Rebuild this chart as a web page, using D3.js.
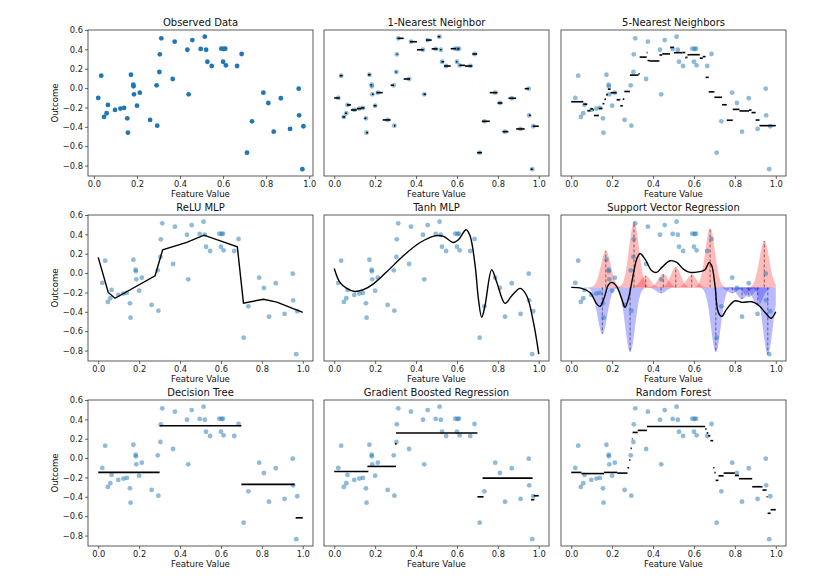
<!DOCTYPE html>
<html><head><meta charset="utf-8">
<script src="https://cdn.jsdelivr.net/npm/d3@7"></script>
<style>body{margin:0;background:#fff} text{font-family:"DejaVu Sans",sans-serif}</style>
</head><body><svg id="c" width="832" height="586"></svg>
<script>
const obsX = [0.020,0.034,0.047,0.059,0.065,0.098,0.123,0.140,0.155,0.158,0.172,0.183,0.184,0.186,0.200,0.213,0.261,0.291,0.294,0.304,0.306,0.313,0.366,0.375,0.434,0.440,0.457,0.496,0.515,0.521,0.527,0.547,0.592,0.600,0.603,0.610,0.613,0.665,0.686,0.711,0.734,0.787,0.810,0.835,0.868,0.911,0.951,0.953,0.968,0.973];
const obsY = [-0.102,0.128,-0.298,-0.260,-0.174,-0.226,-0.212,-0.205,-0.312,-0.460,0.138,0.035,0.018,-0.064,-0.182,-0.047,-0.329,0.029,-0.388,0.166,0.349,0.514,0.094,0.479,0.396,-0.064,0.496,0.405,0.531,0.396,0.272,0.228,0.407,0.272,0.404,0.407,0.235,0.228,0.352,-0.667,-0.343,-0.047,-0.154,-0.450,-0.105,-0.422,-0.006,-0.281,-0.838,-0.394];
const titles = ["Observed Data","1-Nearest Neighbor","5-Nearest Neighbors","ReLU MLP","Tanh MLP","Support Vector Regression","Decision Tree","Gradient Boosted Regression","Random Forest"];
const xTicks = [0.0,0.2,0.4,0.6,0.8,1.0];
const yTicks = [0.6,0.4,0.2,0.0,-0.2,-0.4,-0.6,-0.8];
// 1-NN cell edges (each cell carries the observed value of its point)
const knn1Edges = [0,0.027,0.0405,0.053,0.062,0.0815,0.1105,0.1315,0.1475,0.1565,0.165,0.1775,0.1835,0.185,0.193,0.2065,0.237,0.276,0.2925,0.299,0.305,0.3095,0.3395,0.3705,0.4045,0.437,0.4485,0.4765,0.5055,0.518,0.524,0.537,0.5695,0.596,0.6015,0.6065,0.6115,0.639,0.6755,0.6985,0.7225,0.7605,0.7985,0.8225,0.8515,0.8895,0.931,0.952,0.9605,0.9705,1];
// 5-NN step edges and step values
const knn5Edges = [0,0.059,0.0785,0.0935,0.107,0.1115,0.135,0.153,0.162,0.1705,0.179,0.1925,0.222,0.2375,0.240,0.252,0.2595,0.287,0.3285,0.3345,0.369,0.373,0.385,0.431,0.445,0.4775,0.4835,0.502,0.544,0.5575,0.562,0.5685,0.580,0.6285,0.643,0.657,0.672,0.700,0.7375,0.7605,0.7895,0.8225,0.869,0.8815,0.9015,0.9205,1];
const knn5Y = [-0.141,-0.166,-0.234,-0.215,-0.226,-0.283,-0.210,-0.161,-0.116,-0.067,-0.011,-0.048,-0.121,-0.119,-0.183,-0.114,-0.035,0.134,0.147,0.320,0.366,0.284,0.280,0.342,0.353,0.353,0.420,0.366,0.367,0.315,0.317,0.344,0.345,0.309,0.325,0.111,-0.039,-0.095,-0.172,-0.332,-0.220,-0.236,-0.227,-0.253,-0.330,-0.388];
// ReLU MLP polyline
const reluX = [0.000,0.049,0.082,0.278,0.315,0.433,0.517,0.680,0.710,0.808,0.873,1.000];
const reluY = [0.162,-0.200,-0.260,-0.028,0.240,0.317,0.392,0.272,-0.310,-0.270,-0.300,-0.405];
// Tanh MLP curve
const tanhX = [0.000,0.028,0.061,0.100,0.142,0.190,0.257,0.338,0.420,0.493,0.534,0.582,0.607,0.645,0.664,0.689,0.705,0.721,0.737,0.770,0.795,0.835,0.868,0.909,0.941,0.974,1.000];
const tanhY = [0.048,-0.096,-0.158,-0.190,-0.172,-0.114,0.013,0.179,0.316,0.385,0.379,0.316,0.344,0.447,0.385,0.075,-0.268,-0.457,-0.337,0.034,-0.096,-0.313,-0.234,-0.158,-0.234,-0.510,-0.836];
// SVR prediction curve
const svrX = [0.000,0.051,0.092,0.125,0.141,0.162,0.181,0.198,0.222,0.247,0.263,0.279,0.299,0.320,0.336,0.361,0.394,0.418,0.443,0.483,0.516,0.548,0.581,0.622,0.654,0.674,0.687,0.703,0.719,0.736,0.760,0.801,0.834,0.883,0.915,0.948,0.977,1.000];
const svrY = [-0.148,-0.158,-0.200,-0.320,-0.344,-0.250,-0.124,-0.096,-0.137,-0.268,-0.354,-0.268,-0.062,0.144,0.203,0.144,0.024,0.007,0.059,0.127,0.110,0.041,0.007,0.013,0.034,0.110,0.075,-0.131,-0.406,-0.447,-0.372,-0.286,-0.302,-0.296,-0.330,-0.406,-0.467,-0.400];
// support vectors: location and kernel weight
const svCenter = [0.152,0.169,0.288,0.307,0.364,0.439,0.450,0.511,0.589,0.679,0.707,0.787,0.835,0.868,0.912,0.944,0.961];
const svCoef   = [-0.48,0.378,-0.67,0.678,0.12,-0.06,0.14,0.21,0.13,0.61,-0.67,-0.06,-0.12,-0.10,-0.19,0.48,-0.69];
const svrIntercept = -0.148;
// Decision tree steps
const treeX0 = [0.000,0.300,0.700,0.965];
const treeX1 = [0.300,0.700,0.960,1.000];
const treeY  = [-0.148,0.334,-0.272,-0.617];
// Gradient boosting steps
const gbrX0 = [0.000,0.162,0.297,0.302,0.700,0.725,0.962,0.975];
const gbrX1 = [0.167,0.302,0.305,0.700,0.730,0.970,0.978,1.000];
const gbrY  = [-0.138,-0.086,0.147,0.259,-0.400,-0.207,-0.430,-0.389];
// Random forest steps
const rfX0 = [0.000,0.050,0.160,0.225,0.275,0.283,0.290,0.296,0.300,0.325,0.370,0.655,0.662,0.670,0.680,0.694,0.700,0.706,0.720,0.745,0.800,0.820,0.885,0.935,0.955,0.960,0.975];
const rfX1 = [0.050,0.160,0.225,0.275,0.283,0.290,0.296,0.300,0.325,0.370,0.655,0.662,0.670,0.680,0.694,0.700,0.706,0.720,0.745,0.800,0.820,0.885,0.935,0.955,0.960,0.975,1.000];
const rfY  = [-0.148,-0.160,-0.148,-0.155,-0.100,-0.020,0.100,0.200,0.265,0.286,0.327,0.300,0.260,0.230,0.180,-0.100,-0.150,-0.230,-0.183,-0.155,-0.180,-0.213,-0.296,-0.330,-0.400,-0.570,-0.533];

const svg = d3.select("#c");
const colL = [88,324,561], rowT = [30,215,400], W = 225, H = 146;
const yDom = [-0.908, 0.6];
const blue = "#1f77b4";
const fmt = d3.format(".1f");

function segs(g, x, y, x0, x1, v){
  g.selectAll(null).data(v.map((d,i)=>({a:x0[i],b:x1[i],v:d}))).join("line")
    .attr("x1",d=>x(d.a)).attr("x2",d=>x(d.b)).attr("y1",d=>y(d.v)).attr("y2",d=>y(d.v))
    .attr("stroke","#000").attr("stroke-width",1.6);
}
function poly(g, x, y, xs, ys, curve){
  g.append("path").datum(xs.map((d,i)=>[d,ys[i]]))
    .attr("d", d3.line().x(d=>x(d[0])).y(d=>y(d[1])).curve(curve))
    .attr("fill","none").attr("stroke","#000").attr("stroke-width",1.4);
}

titles.forEach((t,i)=>{
  const c = i%3, r = Math.floor(i/3);
  const g = svg.append("g").attr("transform",`translate(${colL[c]},${rowT[r]})`);
  const x = d3.scaleLinear().domain(i===0?[-0.0275,1.0175]:[-0.05,1.05]).range([0,W]);
  const y = d3.scaleLinear().domain(yDom).range([H,0]);
  const cid = "clip"+i;
  g.append("clipPath").attr("id",cid).append("rect").attr("width",W).attr("height",H);
  const p = g.append("g").attr("clip-path",`url(#${cid})`);

  if (i===5){
    const grid = d3.range(0,1.0001,0.002);
    const s2 = 2*0.024*0.024;
    svCenter.forEach((cx,k)=>{
      const cf = svCoef[k];
      const area = d3.area().x(d=>x(d)).y0(y(svrIntercept))
        .y1(d=>y(svrIntercept + cf*Math.exp(-(d-cx)*(d-cx)/s2)));
      p.append("path").datum(grid).attr("d",area)
        .attr("fill", cf>0?"red":"blue").attr("fill-opacity",0.27).attr("stroke","none");
    });
    svCenter.forEach((cx,k)=>{
      p.append("line").attr("x1",x(cx)).attr("x2",x(cx))
        .attr("y1",y(svrIntercept)).attr("y2",y(svrIntercept+svCoef[k]))
        .attr("stroke","#000").attr("stroke-opacity",0.5).attr("stroke-width",1)
        .attr("stroke-dasharray","3,2");
    });
  }

  p.selectAll("circle").data(obsX).join("circle")
    .attr("cx",d=>x(d)).attr("cy",(d,k)=>y(obsY[k])).attr("r",2.4)
    .attr("fill",blue).attr("fill-opacity",i===0?1:0.5);

  if (i===1){
    segs(p,x,y,knn1Edges.slice(0,-1),knn1Edges.slice(1),obsY);
  } else if (i===2){
    segs(p,x,y,knn5Edges.slice(0,-1),knn5Edges.slice(1),knn5Y);
  } else if (i===3){
    poly(p,x,y,reluX,reluY,d3.curveLinear);
  } else if (i===4){
    poly(p,x,y,tanhX,tanhY,d3.curveCatmullRom);
  } else if (i===5){
    poly(p,x,y,svrX,svrY,d3.curveCatmullRom);
  } else if (i===6){
    segs(p,x,y,treeX0,treeX1,treeY);
  } else if (i===7){
    segs(p,x,y,gbrX0,gbrX1,gbrY);
  } else if (i===8){
    segs(p,x,y,rfX0,rfX1,rfY);
  }

  const xa = g.append("g").attr("transform",`translate(0,${H})`)
    .call(d3.axisBottom(x).tickValues(xTicks).tickSize(3).tickPadding(2).tickFormat(fmt));
  xa.select(".domain").remove();
  xa.selectAll("text").attr("font-size",8.3).attr("font-family","DejaVu Sans").attr("fill","#222");
  xa.selectAll("line").attr("stroke","#222").attr("stroke-width",0.7);
  if (c===0){
    const ya = g.append("g")
      .call(d3.axisLeft(y).tickValues(yTicks).tickSize(3).tickPadding(2).tickFormat(fmt));
    ya.select(".domain").remove();
    ya.selectAll("text").attr("font-size",8.3).attr("font-family","DejaVu Sans").attr("fill","#222");
    ya.selectAll("line").attr("stroke","#222").attr("stroke-width",0.7);
  }
  g.append("rect").attr("width",W).attr("height",H).attr("fill","none")
    .attr("stroke","#333").attr("stroke-width",0.8);

  g.append("text").attr("x",W/2).attr("y",-4).attr("text-anchor","middle")
    .attr("font-size",10).attr("fill","#111").text(t);
  g.append("text").attr("x",W/2).attr("y",H+21).attr("text-anchor","middle")
    .attr("font-size",8.6).attr("fill","#111").text("Feature Value");
  if (c===0){
    g.append("text").attr("transform",`translate(-30,${H/2}) rotate(-90)`)
      .attr("text-anchor","middle").attr("font-size",8.6).attr("fill","#111").text("Outcome");
  }
});
</script></body></html>
